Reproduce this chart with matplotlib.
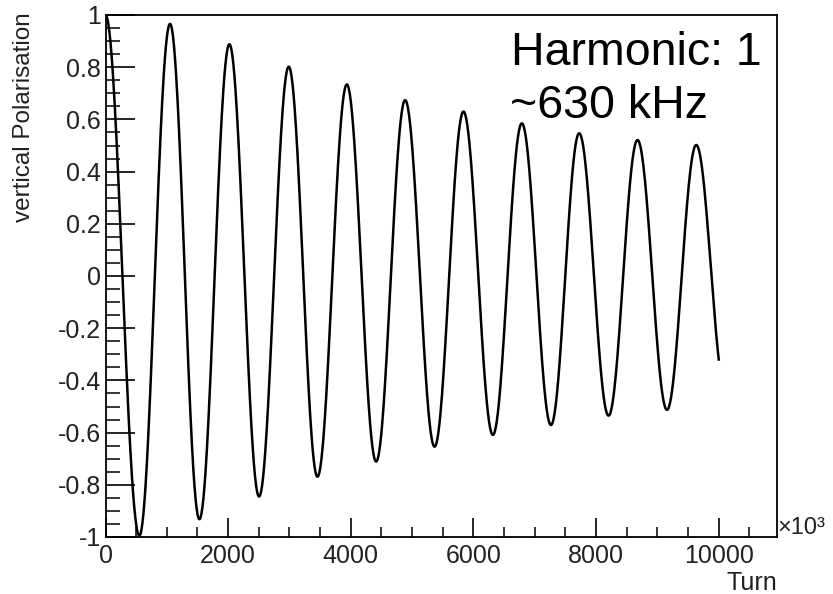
import numpy as np
import matplotlib.pyplot as plt
from matplotlib.ticker import MultipleLocator, FuncFormatter

plt.rcParams['font.family'] = ['Liberation Sans', 'DejaVu Sans']
plt.rcParams['axes.unicode_minus'] = False

# turning points of the vertical polarisation (turn, value)
ext_turn = [0, 552, 1052, 1531, 2020, 2504, 2988, 3456, 3935, 4413, 4886,
            5366, 5837, 6317, 6789, 7264, 7724, 8203, 8675, 9156, 9633]
ext_val = [1.0, -0.995, 0.966, -0.932, 0.888, -0.845, 0.802, -0.769, 0.734, -0.711, 0.674,
           -0.654, 0.630, -0.609, 0.585, -0.571, 0.547, -0.535, 0.521, -0.513, 0.502]
# last point of the run
end_turn = 10000
end_val = -0.32

# smooth half swings between turning points
xs, ys = [], []
for i in range(len(ext_turn) - 1):
    t = np.linspace(0, 1, 60)
    x0, x1 = ext_turn[i], ext_turn[i + 1]
    y0, y1 = ext_val[i], ext_val[i + 1]
    xs.append(x0 + (x1 - x0) * t)
    ys.append((y0 + y1) / 2 + (y0 - y1) / 2 * np.cos(np.pi * t))
# partial swing down to the final point
half = ext_turn[-1] - ext_turn[-2]
frac = (end_turn - ext_turn[-1]) / half
c = np.cos(np.pi * frac)
y0 = ext_val[-1]
v = (end_val - y0 * (1 + c) / 2) / ((1 - c) / 2)
t = np.linspace(0, frac, 50)
xs.append(ext_turn[-1] + half * t)
ys.append((y0 + v) / 2 + (y0 - v) / 2 * np.cos(np.pi * t))
x = np.concatenate(xs)
y = np.concatenate(ys)

fig = plt.figure(figsize=(8.33, 5.94), dpi=100)
ax = fig.add_axes([105.5 / 833, 1 - 537 / 594, (777 - 105.5) / 833, (537 - 15) / 594])
ax.plot(x, y, color='black', lw=1.8)

ax.set_xlim(0, 10950)
ax.set_ylim(-1, 1)
for s in ax.spines.values():
    s.set_linewidth(1.3)

ax.xaxis.set_major_locator(MultipleLocator(2000))
ax.xaxis.set_minor_locator(MultipleLocator(500))
ax.yaxis.set_major_locator(MultipleLocator(0.2))
ax.yaxis.set_minor_locator(MultipleLocator(0.05))
ax.yaxis.set_major_formatter(FuncFormatter(lambda val, pos: '%g' % round(val, 2)))
ax.tick_params(axis='x', which='major', direction='in', length=14, width=1.2, pad=5,
               labelsize=18, labelcolor='#222222')
ax.tick_params(axis='x', which='minor', direction='in', length=7, width=1.1)
ax.tick_params(axis='y', which='major', direction='in', length=21, width=1.2, pad=3.5,
               labelsize=18, labelcolor='#222222')
ax.tick_params(axis='y', which='minor', direction='in', length=10, width=1.1)

fig.text(24 / 833, 1 - 12 / 594, 'vertical Polarisation', rotation=90,
         ha='center', va='top', fontsize=17.5, color='#222222')
fig.text(777 / 833, 1 - 583 / 594, 'Turn', ha='right', va='center', fontsize=18, color='#222222')
fig.text(777 / 833, 1 - 528 / 594, '×10³', ha='left', va='center', fontsize=17, color='#222222')

fig.text(511 / 833, 1 - 65 / 594, 'Harmonic: 1', ha='left', va='baseline', fontsize=33.5)
fig.text(510 / 833, 1 - 118 / 594, '~630 kHz', ha='left', va='baseline', fontsize=33.5)

fig.savefig('out.png', dpi=100)
